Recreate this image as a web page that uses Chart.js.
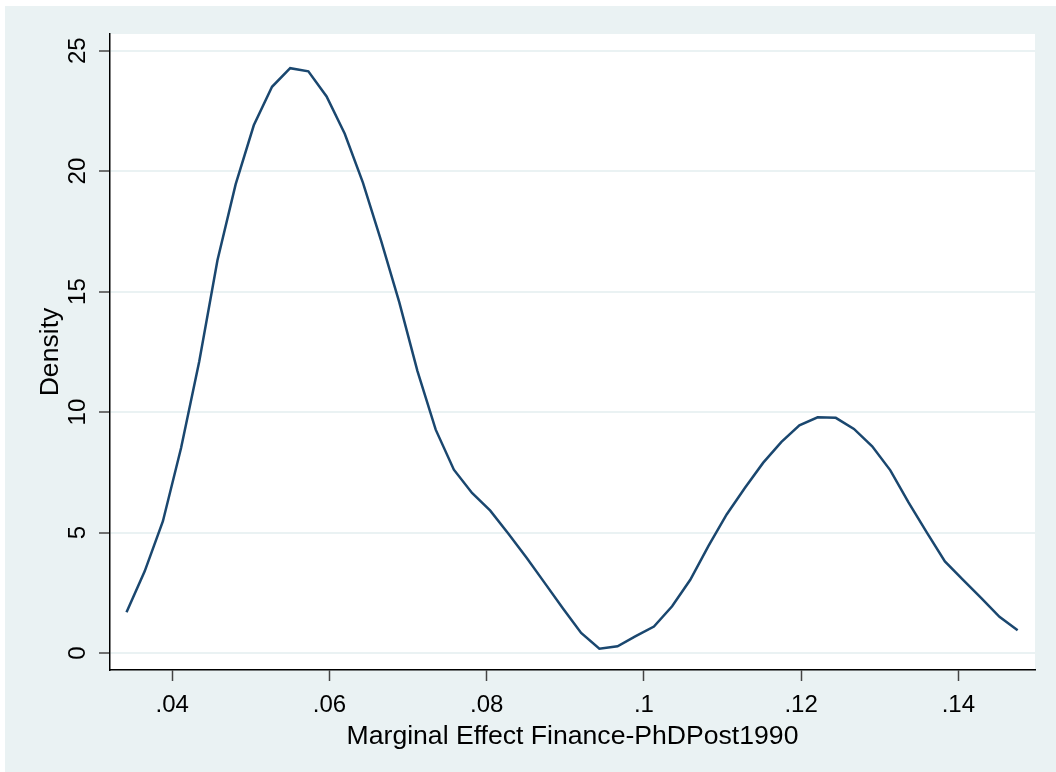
<!DOCTYPE html>
<html>
<head>
<meta charset="utf-8">
<script src="https://cdn.jsdelivr.net/npm/chart.js@4.4.1/dist/chart.umd.min.js"></script>
<style>
  html, body { margin: 0; padding: 0; background: #fff; }
  canvas { display: block; }
</style>
</head>
<body>
<canvas id="c" width="1056" height="772"></canvas>
<script>
// kdensity grid points (x) and estimated density
const xVals = [
    0.03419, 0.03650, 0.03882, 0.04113, 0.04344, 0.04576, 0.04807, 0.05038, 0.05270, 0.05501,
    0.05732, 0.05964, 0.06195, 0.06426, 0.06658, 0.06889, 0.07120, 0.07352, 0.07583, 0.07814,
    0.08046, 0.08277, 0.08508, 0.08740, 0.08971, 0.09202, 0.09434, 0.09665, 0.09896, 0.10128,
    0.10359, 0.10590, 0.10822, 0.11053, 0.11284, 0.11516, 0.11747, 0.11978, 0.12210, 0.12441,
    0.12672, 0.12904, 0.13135, 0.13366, 0.13598, 0.13829, 0.14060, 0.14292, 0.14523, 0.14754
];
const densVals = [
    1.69, 3.39, 5.47, 8.51, 12.1, 16.3, 19.45, 21.9, 23.5, 24.27,
    24.14, 23.1, 21.55, 19.52, 17.1, 14.55, 11.7, 9.27, 7.61, 6.64,
    5.91, 4.95, 3.95, 2.9, 1.85, 0.83, 0.18, 0.28, 0.7, 1.1,
    1.94, 3.04, 4.45, 5.75, 6.85, 7.89, 8.75, 9.45, 9.78, 9.76,
    9.3, 8.58, 7.58, 6.25, 5.01, 3.8, 3.04, 2.28, 1.5, 0.94
];
const xTicks = [0.04, 0.06, 0.08, 0.10, 0.12, 0.14];
const xTickLabels = ['.04', '.06', '.08', '.1', '.12', '.14'];
const yTicks = [0, 5, 10, 15, 20, 25];
const yTickLabels = ['0', '5', '10', '15', '20', '25'];
const xTitle = 'Marginal Effect Finance-PhDPost1990';
const yTitle = 'Density';

const FONT = '"Liberation Sans", Arial, sans-serif';
const BG = 'rgb(234,242,243)';
const NAVY = 'rgb(26,71,111)';

// stata-like backgrounds: outer region + white plot region
const fondo = {
    id: 'fondo',
    beforeDraw(chart) {
        const { ctx, chartArea: a, width, height } = chart;
        ctx.save();
        ctx.fillStyle = '#fff';
        ctx.fillRect(0, 0, width, height);
        ctx.fillStyle = BG;
        ctx.fillRect(5, 6, width - 5, height - 6);
        ctx.fillStyle = '#fff';
        ctx.fillRect(a.left, a.top, a.right - a.left, a.bottom - a.top);
        ctx.restore();
    }
};

// y tick labels are vertical in the original
const yEtiquetas = {
    id: 'yEtiquetas',
    afterDraw(chart) {
        const { ctx, chartArea: a } = chart;
        const sy = chart.scales.y;
        ctx.save();
        ctx.fillStyle = '#000';
        ctx.font = '24px ' + FONT;
        ctx.textAlign = 'center';
        ctx.textBaseline = 'middle';
        yTicks.forEach((v, i) => {
            const py = sy.getPixelForValue(v);
            ctx.save();
            ctx.translate(a.left - 32, py);
            ctx.rotate(-Math.PI / 2);
            ctx.fillText(yTickLabels[i], 0, 0);
            ctx.restore();
        });
        ctx.restore();
    }
};

new Chart(document.getElementById('c'), {
    type: 'line',
    data: {
        datasets: [{
            data: xVals.map((x, i) => ({ x, y: densVals[i] })),
            borderColor: NAVY,
            borderWidth: 2.5,
            pointRadius: 0,
            tension: 0,
            fill: false
        }]
    },
    options: {
        responsive: false,
        devicePixelRatio: 1,
        animation: false,
        layout: { padding: { top: 34, right: 21, bottom: 0, left: 0 } },
        plugins: { legend: { display: false }, tooltip: { enabled: false } },
        scales: {
            x: {
                type: 'linear',
                min: 0.03209,
                max: 0.14975,
                afterBuildTicks: s => { s.ticks = xTicks.map(v => ({ value: v })); },
                afterFit: s => { s.height = 102; },
                ticks: {
                    callback: (v) => xTickLabels[xTicks.findIndex(t => Math.abs(t - v) < 1e-9)],
                    color: '#000',
                    font: { family: FONT, size: 24 },
                    padding: 10,
                    maxRotation: 0,
                    autoSkip: false
                },
                grid: {
                    drawOnChartArea: false,
                    tickColor: '#444',
                    tickLength: 11,
                    tickWidth: 1.5
                },
                border: { display: true, color: '#000', width: 1.5 },
                title: {
                    display: true,
                    text: xTitle,
                    color: '#000',
                    font: { family: FONT, size: 26.6 },
                    padding: { top: 0, bottom: 19 }
                }
            },
            y: {
                type: 'linear',
                min: -0.705,
                max: 25.69,
                afterBuildTicks: s => { s.ticks = yTicks.map(v => ({ value: v })); },
                afterFit: s => { s.width = 110; },
                ticks: { display: false },
                grid: {
                    color: BG,
                    lineWidth: 2,
                    tickColor: '#444',
                    tickLength: 11,
                    tickWidth: 1.5
                },
                border: { display: true, color: '#000', width: 1.5 },
                title: {
                    display: true,
                    text: yTitle,
                    color: '#000',
                    font: { family: FONT, size: 26.6 },
                    padding: { top: 35, bottom: 0 }
                }
            }
        }
    },
    plugins: [fondo, yEtiquetas]
});
</script>
</body>
</html>
